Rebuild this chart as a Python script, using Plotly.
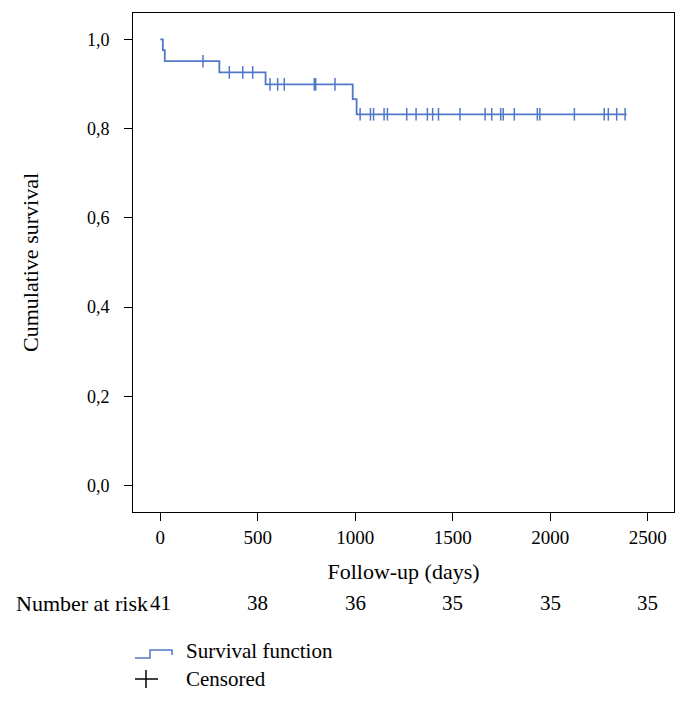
import plotly.graph_objects as go

# ---- data ----
event_days = [0, 13, 23, 303, 540, 987, 1007]
survival = [1.0, 0.976, 0.951, 0.926, 0.899, 0.866, 0.832]
last_day = 2392
censor_days = [219, 354, 423, 474, 563, 602, 636, 790, 797, 896,
               1025, 1078, 1094, 1148, 1165, 1264, 1312, 1370, 1397, 1427,
               1537, 1666, 1700, 1746, 1759, 1816, 1934, 1947, 2124,
               2277, 2298, 2341, 2384]
risk_days = [0, 500, 1000, 1500, 2000, 2500]
risk_counts = [41, 38, 36, 35, 35, 35]
y_ticks = [0.0, 0.2, 0.4, 0.6, 0.8, 1.0]
x_ticks = [0, 500, 1000, 1500, 2000, 2500]

BLUE = "#5277c6"
FONT = "Liberation Serif"
FS = 18
FS2 = 21

OFF = 8  # page body offset
W, H = 689 - OFF, 704 - OFF
ML, MT = 133 - OFF, 13 - OFF
PW, PH = 541, 499
MR, MB = W - ML - PW, H - MT - PH


def px(xp):
    return (xp - OFF - ML) / PW


def py(yp):
    return (MT + PH - (yp - OFF)) / PH


def surv_at(d):
    s = survival[0]
    for e, v in zip(event_days, survival):
        if e <= d:
            s = v
    return s


step_x = event_days + [last_day]
step_y = survival + [survival[-1]]
cens_y = [surv_at(d) for d in censor_days]

fig = go.Figure()
fig.add_trace(go.Scatter(x=step_x, y=step_y, mode="lines", line_shape="hv",
                         line=dict(color=BLUE, width=1.8), showlegend=False,
                         name="Survival function"))
fig.add_trace(go.Scatter(x=censor_days, y=cens_y, mode="markers",
                         marker=dict(symbol="line-ns", size=9,
                                     line=dict(color=BLUE, width=1.5)),
                         showlegend=False, name="Censored"))

txt = dict(family=FONT, size=FS2, color="black")
leg = dict(family=FONT, size=21, color="black")
annotations = []
annotations.append(dict(text="Number at risk", xref="paper", yref="paper",
                        x=px(150), y=py(603), xanchor="right", yanchor="middle",
                        showarrow=False, font=dict(family=FONT, size=22, color="black")))
for d, n in zip(risk_days, risk_counts):
    annotations.append(dict(text=str(n), xref="x", yref="paper", x=d, y=py(603),
                            xanchor="center", yanchor="middle", showarrow=False,
                            font=txt))
annotations.append(dict(text="Survival function", xref="paper", yref="paper",
                        x=px(184), y=py(651), xanchor="left", yanchor="middle",
                        showarrow=False, font=leg))
annotations.append(dict(text="Censored", xref="paper", yref="paper",
                        x=px(184), y=py(679), xanchor="left", yanchor="middle",
                        showarrow=False, font=leg))

shapes = [
    dict(type="path", xref="paper", yref="paper",
         path=f"M {px(135)},{py(658)} L {px(150)},{py(658)} L {px(150)},{py(650)} "
              f"L {px(172)},{py(650)} L {px(172)},{py(655)}",
         line=dict(color=BLUE, width=1.5)),
    dict(type="line", xref="paper", yref="paper", x0=px(135), x1=px(158),
         y0=py(679), y1=py(679), line=dict(color="black", width=1.5)),
    dict(type="line", xref="paper", yref="paper", x0=px(146), x1=px(146),
         y0=py(670), y1=py(688), line=dict(color="black", width=1.5)),
]

fig.update_layout(
    width=W, height=H, margin=dict(l=ML, r=MR, t=MT, b=MB),
    paper_bgcolor="white", plot_bgcolor="white",
    separators=", ",
    font=dict(family=FONT, size=FS, color="black"),
    annotations=annotations, shapes=shapes,
    xaxis=dict(range=[-140, 2635], tickvals=x_ticks, tickformat="d",
               showgrid=False, zeroline=False, showline=True, mirror=True,
               linecolor="black", linewidth=1, ticks="outside", ticklen=8,
               tickcolor="black", tickfont=dict(size=19),
               title=dict(text="Follow-up (days)", standoff=16)),
    yaxis=dict(range=[-0.059, 1.059], tickvals=y_ticks, tickformat=".1f",
               showgrid=False, zeroline=False, showline=True, mirror=True,
               linecolor="black", linewidth=1, ticks="outside", ticklen=8,
               tickcolor="black", ticklabelstandoff=11,
               title=dict(text="Cumulative survival", standoff=42)),
)

fig.write_html("out.html")
